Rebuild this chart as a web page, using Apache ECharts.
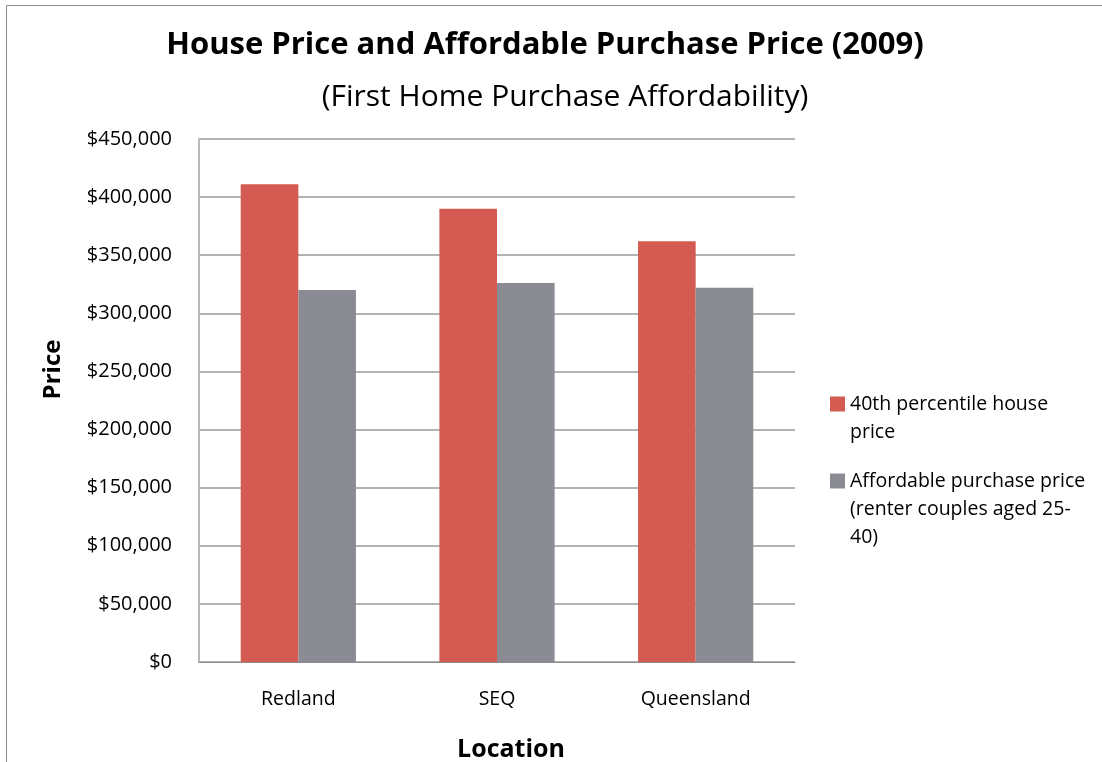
<!DOCTYPE html>
<html>
<head>
<meta charset="utf-8">
<script src="https://cdn.jsdelivr.net/npm/echarts@6/dist/echarts.min.js"></script>
<style>
  html, body { margin: 0; padding: 0; background: #fff; }
  #chart { width: 1102px; height: 762px; }
</style>
</head>
<body>
<div id="chart"></div>
<script>
// categories and values
var locations = ["Redland", "SEQ", "Queensland"];
var housePrice = [411000, 390000, 362000];
var affordablePrice = [320000, 326000, 322000];
var seriesNames = ["40th percentile house price", "Affordable purchase price (renter couples aged 25-40)"];
var legendLabels = ["40th percentile house\nprice", "Affordable purchase price\n(renter couples aged 25-\n40)"];

var font = "Open Sans";
var lineH = 28;
var chart = echarts.init(document.getElementById("chart"));

// one legend per item; blank lines on top keep the square level with the first line
function legendFor(i, firstLineY) {
  var n = legendLabels[i].split("\n").length;
  var blank = "";
  for (var k = 1; k < n; k++) blank += " \n";
  return {
    orient: "vertical",
    left: 830,
    top: firstLineY - (n - 1) * lineH - lineH / 2,
    padding: 0,
    itemWidth: 15, itemHeight: 15,
    icon: "rect",
    formatter: function () { return blank + legendLabels[i]; },
    textStyle: { fontFamily: font, fontSize: 19.5, color: "#000", lineHeight: lineH },
    data: [seriesNames[i]]
  };
}

var option = {
  animation: false,
  backgroundColor: "#fff",
  textStyle: { fontFamily: font },
  title: [
    {
      text: "House Price and Affordable Purchase Price (2009)",
      left: 540, top: 25, textAlign: "center",
      textStyle: { fontFamily: font, fontSize: 31, fontWeight: "bold", color: "#000" }
    },
    {
      text: "(First Home Purchase Affordability)",
      left: 560, top: 77, textAlign: "center",
      textStyle: { fontFamily: font, fontSize: 30, fontWeight: "normal", color: "#000" }
    }
  ],
  legend: [legendFor(0, 404), legendFor(1, 481)],
  grid: { left: 199, top: 139, width: 596, height: 523, outerBoundsMode: "none" },
  xAxis: {
    type: "category",
    data: locations,
    name: "Location",
    nameLocation: "middle",
    nameGap: 75,
    nameTextStyle: {
      fontFamily: font, fontSize: 25, fontWeight: "bold", color: "#000",
      padding: [0, 0, 0, 28]
    },
    axisLine: { lineStyle: { color: "#8c8c8c", width: 1 } },
    axisTick: { show: false },
    axisLabel: { fontFamily: font, fontSize: 19.5, color: "#000", margin: 27 }
  },
  yAxis: {
    type: "value",
    min: 0, max: 450000, interval: 50000,
    name: "Price",
    nameLocation: "middle",
    nameGap: 134,
    nameRotate: 90,
    nameTextStyle: {
      fontFamily: font, fontSize: 24, fontWeight: "bold", color: "#000",
      padding: [0, 0, 0, 62]
    },
    axisLine: { show: true, lineStyle: { color: "#b8b8b8", width: 2 } },
    axisTick: { show: false },
    splitLine: { lineStyle: { color: "#b3b3b3", width: 2 } },
    axisLabel: {
      fontFamily: font, fontSize: 20, color: "#000", margin: 27,
      verticalAlign: "middle", padding: [11, 0, 0, 0],
      formatter: function (v) { return "$" + v.toLocaleString("en-US"); }
    }
  },
  series: [
    {
      name: seriesNames[0], type: "bar", data: housePrice,
      barGap: "0%", barCategoryGap: "42%",
      itemStyle: { color: "#d35b51" }
    },
    {
      name: seriesNames[1], type: "bar", data: affordablePrice,
      itemStyle: { color: "#8b8b94" }
    }
  ],
  graphic: [
    {
      type: "rect",
      shape: { x: 6.5, y: 5.5, width: 1200, height: 900 },
      style: { fill: "none", stroke: "#8c8c8c", lineWidth: 1 },
      silent: true
    }
  ]
};

chart.setOption(option);
</script>
</body>
</html>
